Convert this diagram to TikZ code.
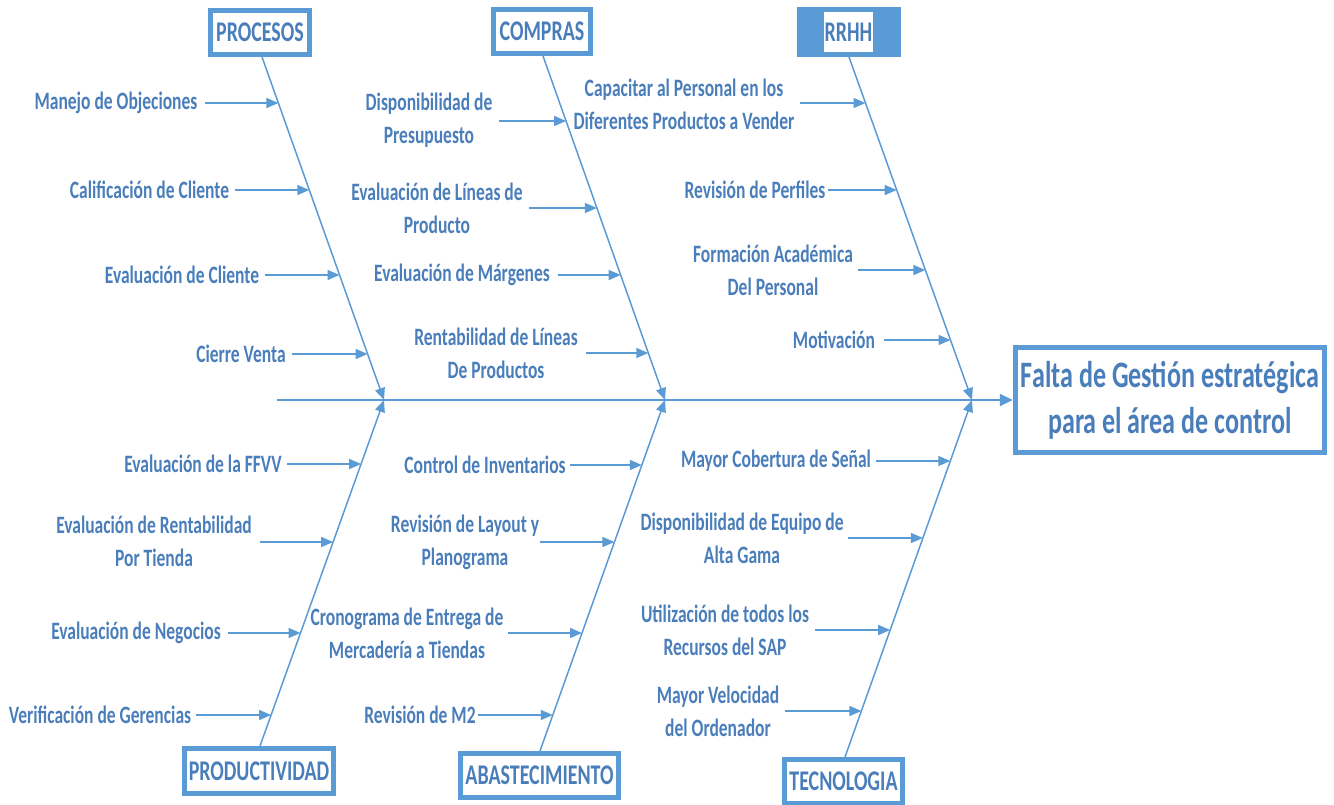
\documentclass[tikz,border=0pt]{standalone}
\usepackage{fontspec}
\newfontfamily\lblfont{Carlito}[FakeStretch=0.7]
\usetikzlibrary{arrows.meta}
\definecolor{bone}{HTML}{5B9BD5}
\definecolor{txt}{HTML}{4A7EBB}
\tikzset{
  lbl/.style={inner sep=0pt, text=txt, align=center, font=\lblfont\bfseries\fontsize{25}{33}\selectfont},
  catbox/.style={draw=bone, line width=5pt, fill=white, inner sep=0pt, text=txt, font=\lblfont\bfseries\fontsize{28.5}{30}\selectfont},
  sub/.style={draw=bone, line width=1.5pt, -{Triangle[length=12pt,width=10pt]}},
  bonel/.style={draw=bone, line width=1.5pt, -{Triangle[length=12pt,width=10pt]}},
}
\begin{document}
\begin{tikzpicture}[x=1pt,y=-1pt]
\useasboundingbox (0,0) rectangle (1334,804);
% category boxes
\node[catbox, minimum width=99pt, minimum height=44pt] (proc) at (260,32.5) {PROCESOS};
\node[catbox, minimum width=97pt, minimum height=44pt] (comp) at (542,31.5) {COMPRAS};
\node[fill=bone, draw=none, minimum width=104pt, minimum height=50pt, inner sep=0pt] (rrhh) at (849,32) {};
\node[fill=white, text=txt, inner sep=0pt, minimum width=49pt, minimum height=40pt, font=\lblfont\bfseries\fontsize{28.5}{30}\selectfont] (rrhhtxt) at (848.5,32) {RRHH};
\node[catbox, minimum width=149pt, minimum height=45pt] (prod) at (259,771) {PRODUCTIVIDAD};
\node[catbox, minimum width=158pt, minimum height=44pt] (abas) at (539.5,775.5) {ABASTECIMIENTO};
\node[catbox, minimum width=118pt, minimum height=44pt] (tecn) at (843.5,781) {TECNOLOGIA};
% main box
\node[draw=bone, line width=5.5pt, fill=white, inner sep=0pt, minimum width=309pt, minimum height=105pt, text=txt, align=center, font=\lblfont\bfseries\fontsize{37.3}{46}\selectfont] (main) at (1170,400) {Falta de Gestión estratégica\\para el área de control};
% spine
\coordinate (tail) at (277,400);
\coordinate (j1) at (384,400);
\coordinate (j2) at (665,400);
\coordinate (j3) at (972,400);
\draw[draw=bone, line width=2.5pt, -{Triangle[length=13pt,width=12pt]}] (tail) -- (main.west);
% top bones
\coordinate (p0) at (262,57);
\coordinate (c0) at (543,56);
\coordinate (r0) at (849,57);
\draw[bonel] (p0) -- (j1);
\draw[bonel] (c0) -- (j2);
\draw[bonel] (r0) -- (j3);
% bottom bones
\coordinate (d0) at (260,746);
\coordinate (a0) at (540,751);
\coordinate (t0) at (845,757);
\draw[bonel] (d0) -- (j1);
\draw[bonel] (a0) -- (j2);
\draw[bonel] (t0) -- (j3);

% PROCESOS
\node[lbl] (l1) at (116,103) {Manejo de Objeciones};
\node[lbl] (l2) at (149.5,190) {Calificación de Cliente};
\node[lbl] (l3) at (182,275) {Evaluación de Cliente};
\node[lbl] (l4) at (241,354) {Cierre Venta};
\coordinate (s1) at (205,103); \coordinate (e1) at (278.4,103);
\coordinate (s2) at (235,190); \coordinate (e2) at (309.3,190);
\coordinate (s3) at (265,275); \coordinate (e3) at (339.5,275);
\coordinate (s4) at (292,354); \coordinate (e4) at (367.6,354);
\draw[sub] (s1) -- (e1); \draw[sub] (s2) -- (e2); \draw[sub] (s3) -- (e3); \draw[sub] (s4) -- (e4);

% COMPRAS
\node[lbl] (l5) at (429,120.5) {Disponibilidad de\\Presupuesto};
\node[lbl] (l6) at (437,208.5) {Evaluación de Líneas de\\Producto};
\node[lbl] (l7) at (462,275) {Evaluación de Márgenes};
\node[lbl] (l8) at (496,353.5) {Rentabilidad de Líneas\\De Productos};
\coordinate (s5) at (499,121); \coordinate (e5) at (566.1,121);
\coordinate (s6) at (529,208); \coordinate (e6) at (596.9,208);
\coordinate (s7) at (558,275); \coordinate (e7) at (620.7,275);
\coordinate (s8) at (586,353); \coordinate (e8) at (648.3,353);
\draw[sub] (s5) -- (e5); \draw[sub] (s6) -- (e6); \draw[sub] (s7) -- (e7); \draw[sub] (s8) -- (e8);

% RRHH
\node[lbl] (l9) at (684,104) {Capacitar al Personal en los\\Diferentes Productos a Vender};
\node[lbl] (l10) at (755,190) {Revisión de Perfiles};
\node[lbl] (l11) at (773,270.5) {Formación Académica\\Del Personal};
\node[lbl] (l12) at (834,340) {Motivación};
\coordinate (s9) at (800,103); \coordinate (e9) at (865.5,103);
\coordinate (s10) at (828,190); \coordinate (e10) at (896.7,190);
\coordinate (s11) at (858,270); \coordinate (e11) at (925.4,270);
\coordinate (s12) at (884,340); \coordinate (e12) at (950.5,340);
\draw[sub] (s9) -- (e9); \draw[sub] (s10) -- (e10); \draw[sub] (s11) -- (e11); \draw[sub] (s12) -- (e12);

% PRODUCTIVIDAD
\node[lbl] (l13) at (203,464) {Evaluación de la FFVV};
\node[lbl] (l14) at (154,541.5) {Evaluación de Rentabilidad\\Por Tienda};
\node[lbl] (l15) at (136,633) {Evaluación de Negocios};
\node[lbl] (l16) at (100,715) {Verificación de Gerencias};
\coordinate (s13) at (287,464); \coordinate (e13) at (361.1,464);
\coordinate (s14) at (260,542); \coordinate (e14) at (333.1,542);
\coordinate (s15) at (228,633); \coordinate (e15) at (300.5,633);
\coordinate (s16) at (196,715); \coordinate (e16) at (271.1,715);
\draw[sub] (s13) -- (e13); \draw[sub] (s14) -- (e14); \draw[sub] (s15) -- (e15); \draw[sub] (s16) -- (e16);

% ABASTECIMIENTO
\node[lbl] (l17) at (485,465) {Control de Inventarios};
\node[lbl] (l18) at (465,542.5) {Revisión de Layout y\\Planograma};
\node[lbl] (l19) at (407,633) {Cronograma de Entrega de\\Mercadería a Tiendas};
\node[lbl] (l20) at (420,715) {Revisión de M2};
\coordinate (s17) at (570,465); \coordinate (e17) at (641.9,465);
\coordinate (s18) at (540,542); \coordinate (e18) at (614.4,542);
\coordinate (s19) at (508,633); \coordinate (e19) at (582.0,633);
\coordinate (s20) at (478,715); \coordinate (e20) at (552.8,715);
\draw[sub] (s17) -- (e17); \draw[sub] (s18) -- (e18); \draw[sub] (s19) -- (e19); \draw[sub] (s20) -- (e20);

% TECNOLOGIA
\node[lbl] (l21) at (776,461) {Mayor Cobertura de Señal};
\node[lbl] (l22) at (742,538.5) {Disponibilidad de Equipo de\\Alta Gama};
\node[lbl] (l23) at (725,630.5) {Utilización de todos los\\Recursos del SAP};
\node[lbl] (l24) at (718,711.5) {Mayor Velocidad\\del Ordenador};
\coordinate (s21) at (876,461); \coordinate (e21) at (950.3,461);
\coordinate (s22) at (848,538); \coordinate (e22) at (922.9,538);
\coordinate (s23) at (815,630); \coordinate (e23) at (890.2,630);
\coordinate (s24) at (785,711); \coordinate (e24) at (861.4,711);
\draw[sub] (s21) -- (e21); \draw[sub] (s22) -- (e22); \draw[sub] (s23) -- (e23); \draw[sub] (s24) -- (e24);
\end{tikzpicture}
\end{document}
